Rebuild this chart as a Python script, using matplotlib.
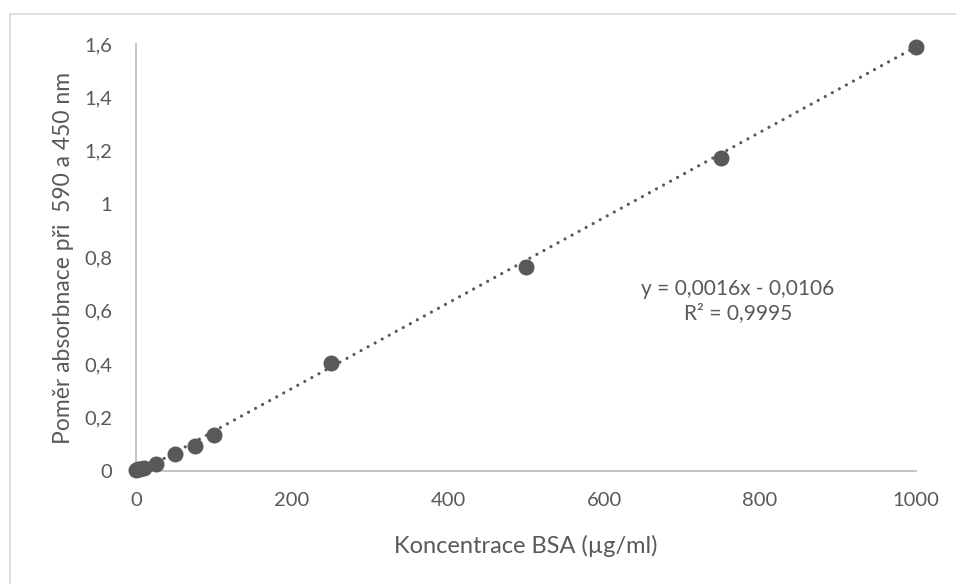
import matplotlib
matplotlib.use("Agg")
import matplotlib.pyplot as plt
import numpy as np
from matplotlib.lines import Line2D

conc = [0, 2.5, 5, 10, 25, 50, 75, 100, 250, 500, 750, 1000]
ratio = [0.003, 0.006, 0.008, 0.013, 0.027, 0.062, 0.094, 0.136, 0.405, 0.764, 1.173, 1.589]
slope = 0.0016
intercept = -0.0106
xticks = [0, 200, 400, 600, 800, 1000]
yticks = [0, 0.2, 0.4, 0.6, 0.8, 1.0, 1.2, 1.4, 1.6]
yticklabels = ["0", "0,2", "0,4", "0,6", "0,8", "1", "1,2", "1,4", "1,6"]
xlabel = "Koncentrace BSA (µg/ml)"
ylabel = "Poměr absorbnace při  590 a 450 nm"
eq_text = "y = 0,0016x - 0,0106\nR² = 0,9995"

plt.rcParams['font.family'] = ['Lato', 'DejaVu Sans']
txt = '#595959'
W, H = 956, 584
fig = plt.figure(figsize=(W / 100, H / 100), dpi=100)
ax = fig.add_axes([136 / W, 1 - 471 / H, 780 / W, 427 / H])

# chart border
fig.add_artist(Line2D([10 / W, 10 / W, 1.0], [0.0, 1 - 14 / H, 1 - 14 / H],
                      transform=fig.transFigure, color='#D9D9D9', lw=1.2))

xs = np.array([conc[0], conc[-1]])
ax.plot(xs, slope * xs + intercept, linestyle=(0, (0.01, 2.5)), color='#595959', lw=2.3,
        zorder=2, dash_capstyle='round')
ax.plot(conc, ratio, 'o', color='#595959', markersize=10.5, zorder=3, clip_on=False)

ax.set_xlim(0, 1000)
ax.set_ylim(0, 1.6)
ax.set_xticks(xticks)
ax.set_xticklabels([str(v) for v in xticks])
ax.set_yticks(yticks)
ax.set_yticklabels(yticklabels)
ax.tick_params(length=0, labelsize=14.5, colors=txt)
ax.tick_params(axis='x', pad=15)
ax.tick_params(axis='y', pad=17)
for s in ['top', 'right']:
    ax.spines[s].set_visible(False)
for s in ['left', 'bottom']:
    ax.spines[s].set_color('#BFBFBF')
    ax.spines[s].set_linewidth(1.3)

fig.text(526 / W, 1 - 546 / H, xlabel, ha='center', va='center', fontsize=17, color=txt)
fig.text(64 / W, 1 - 258 / H, ylabel, ha='center', va='center', fontsize=16.5, color=txt,
         rotation=90)

ax.text(738 / W, 1 - 301 / H, eq_text, transform=fig.transFigure, ha='center', va='center',
        fontsize=15, color=txt, linespacing=1.2)

fig.savefig("out.png", dpi=100)
